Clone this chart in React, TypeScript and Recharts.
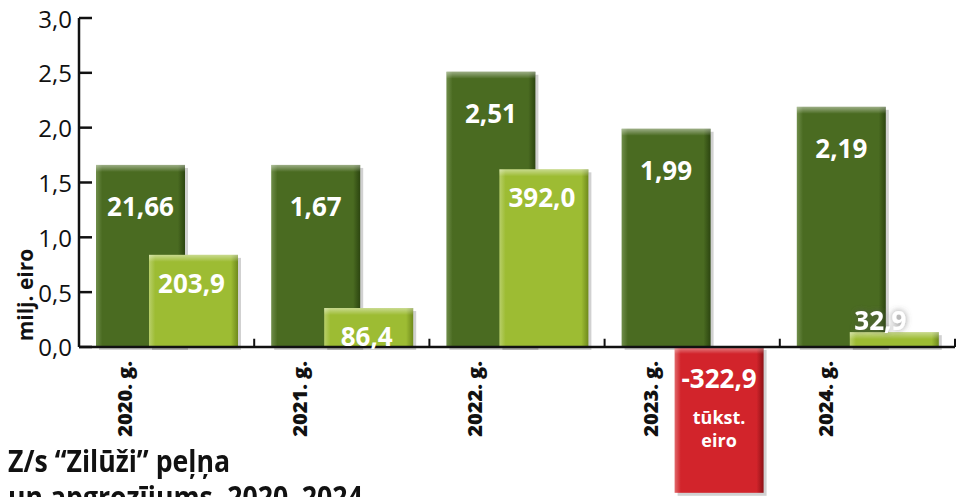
import React from "react";
import { Bar, BarChart, LabelList, ReferenceLine, XAxis, YAxis } from "recharts";

const years = ["2020. g.", "2021. g.", "2022. g.", "2023. g.", "2024. g."];
// apgrozījums, milj. eiro
const turnover = [1.66, 1.66, 2.51, 1.99, 2.19];
const turnoverLabels = ["21,66", "1,67", "2,51", "1,99", "2,19"];
// peļņa, bar heights as drawn on the same axis
const profit = [0.84, 0.355, 1.62, -1.33, 0.135];
const profitLabels = ["203,9", "86,4", "392,0", "-322,9", "32,9"];
const yTicks = [0, 0.5, 1, 1.5, 2, 2.5, 3];

const data = years.map((year, i) => ({
  year,
  turnover: turnover[i],
  profit: profit[i],
  tLabel: turnoverLabels[i],
  pLabel: profitLabels[i],
}));

const FONT = "'Open Sans', 'DejaVu Sans', sans-serif";

function norm(p: any) {
  let { x, y, width, height } = p;
  if (height < 0) {
    y = y + height;
    height = -height;
  }
  return { x: +x, y: +y, width: +width, height: +height };
}

function makeShape(grad: string, negGrad?: string) {
  return (props: any) => {
    const { x, y, width, height } = norm(props);
    if (!height) return <g />;
    const g = props.value < 0 || (Array.isArray(props.value) && props.value[1] < 0) ? negGrad || grad : grad;
    return (
      <g>
        <rect x={x + 3} y={y + 3} width={width} height={height} fill="rgba(0,0,0,0.18)" />
        <rect x={x} y={y} width={width} height={height} fill={`url(#${g})`} />
        <rect x={x} y={y} width={width} height={Math.min(7, height)} fill="url(#topShine)" />
      </g>
    );
  };
}

const DarkBar = makeShape("gDark");
const ProfitBar = makeShape("gLight", "gRed");

function YTick(props: any) {
  const { x, y, payload } = props;
  return (
    <g>
      <line x1={x} x2={x + 13} y1={y} y2={y} stroke="#111" strokeWidth={2.5} />
      <text x={x - 7} y={y} textAnchor="end" dominantBaseline="central" fontSize={24} fill="#111" fontFamily={FONT}>
        {Number(payload.value).toFixed(1).replace(".", ",")}
      </text>
    </g>
  );
}

function TurnoverLabel(props: any) {
  const { x, y, width } = norm(props);
  return (
    <text x={x + width / 2} y={y + 41} textAnchor="middle" dominantBaseline="central" fill="#fff"
      fontSize={26} fontWeight={700} fontFamily={FONT}>
      {props.value}
    </text>
  );
}

function YearLabel(props: any) {
  const { x, y, width, height } = norm(props);
  const cx = x + width / 2 - 16;
  return (
    <text transform={`translate(${cx}, ${y + height + 14}) rotate(-90)`} textAnchor="end"
      dominantBaseline="central" fill="#111" fontSize={20} fontWeight={800} fontFamily={FONT}>
      {props.value}
    </text>
  );
}

function ProfitLabel(props: any) {
  const { x, y, width, height } = norm(props);
  const cx = x + width / 2;
  const label = String(props.value);
  if (label.startsWith("-")) {
    return (
      <g fill="#fff" fontFamily={FONT} fontWeight={700} textAnchor="middle">
        <text x={cx} y={y + 31} dominantBaseline="central" fontSize={26}>{label}</text>
        <text x={cx} y={y + 70} dominantBaseline="central" fontSize={18}>tūkst.</text>
        <text x={cx} y={y + 93} dominantBaseline="central" fontSize={18}>eiro</text>
      </g>
    );
  }
  if (height < 30) {
    return (
      <text x={cx - 14} y={y - 12} textAnchor="middle" dominantBaseline="central" fill="#fff"
        fontSize={26} fontWeight={700} fontFamily={FONT} filter="url(#glow)">
        {label}
      </text>
    );
  }
  return (
    <text x={cx - 2} y={y + 28} textAnchor="middle" dominantBaseline="central" fill="#fff"
      fontSize={26} fontWeight={700} fontFamily={FONT}>
      {label}
    </text>
  );
}

export default function App() {
  return (
    <div style={{ position: "absolute", left: 0, top: 0, width: 965, height: 497, overflow: "hidden", background: "#fff", fontFamily: FONT }}>
      <BarChart width={965} height={497} data={data} margin={{ top: 18, right: 10, bottom: 2, left: 0 }}
        barSize={89} barGap={-36} barCategoryGap={0}>
        <defs>
          <linearGradient id="gDark" x1="0" y1="0" x2="1" y2="0">
            <stop offset="0" stopColor="#6f8d4a" />
            <stop offset="0.07" stopColor="#4a6b21" />
            <stop offset="0.92" stopColor="#4a6b21" />
            <stop offset="1" stopColor="#2c4510" />
          </linearGradient>
          <linearGradient id="gLight" x1="0" y1="0" x2="1" y2="0">
            <stop offset="0" stopColor="#b8cf6a" />
            <stop offset="0.07" stopColor="#9dbc33" />
            <stop offset="0.92" stopColor="#9dbc33" />
            <stop offset="1" stopColor="#6f8a1c" />
          </linearGradient>
          <linearGradient id="gRed" x1="0" y1="0" x2="1" y2="0">
            <stop offset="0" stopColor="#e06a6c" />
            <stop offset="0.07" stopColor="#d2242b" />
            <stop offset="0.92" stopColor="#d2242b" />
            <stop offset="1" stopColor="#8e1217" />
          </linearGradient>
          <linearGradient id="topShine" x1="0" y1="0" x2="0" y2="1">
            <stop offset="0" stopColor="#fff" stopOpacity={0.45} />
            <stop offset="1" stopColor="#fff" stopOpacity={0} />
          </linearGradient>
          <filter id="glow" x="-30%" y="-40%" width="160%" height="180%">
            <feDropShadow dx="0" dy="0" stdDeviation="3" floodColor="#555" floodOpacity="0.7" />
          </filter>
        </defs>
        <XAxis dataKey="year" type="category" hide />
        <YAxis type="number" domain={[-1.35, 3]} ticks={yTicks} interval={0} width={79}
          axisLine={false} tickLine={false} tickSize={0} tickMargin={0} tick={<YTick />} />
        <Bar dataKey="turnover" shape={DarkBar} isAnimationActive={false}>
          <LabelList dataKey="tLabel" content={<TurnoverLabel />} />
          <LabelList dataKey="year" content={<YearLabel />} />
        </Bar>
        <Bar dataKey="profit" shape={ProfitBar} isAnimationActive={false}>
          <LabelList dataKey="pLabel" content={<ProfitLabel />} />
        </Bar>
        <ReferenceLine y={0} stroke="#111" strokeWidth={2.5} />
        <ReferenceLine segment={[{ x: years[0], y: 0 }, { x: years[0], y: 3 }]} position="start"
          stroke="#111" strokeWidth={2.5} />
        {years.map((yr) => (
          <ReferenceLine key={yr} segment={[{ x: yr, y: 0 }, { x: yr, y: 0.075 }]} position="end"
            stroke="#111" strokeWidth={2} />
        ))}
      </BarChart>
      <div style={{ position: "absolute", left: 25, top: 295, transform: "translate(-50%, -50%) rotate(-90deg)",
        whiteSpace: "nowrap", fontSize: 21, fontWeight: 700, color: "#111" }}>
        milj. eiro
      </div>
      <div style={{ position: "absolute", left: 8, top: 442, fontSize: 31, lineHeight: "36px", fontWeight: 700,
        color: "#111", whiteSpace: "nowrap", transform: "scaleX(0.86)", transformOrigin: "left top" }}>
        <div>Z/s “Zilūži” peļņa</div>
        <div>un apgrozījums, 2020–2024</div>
      </div>
    </div>
  );
}
